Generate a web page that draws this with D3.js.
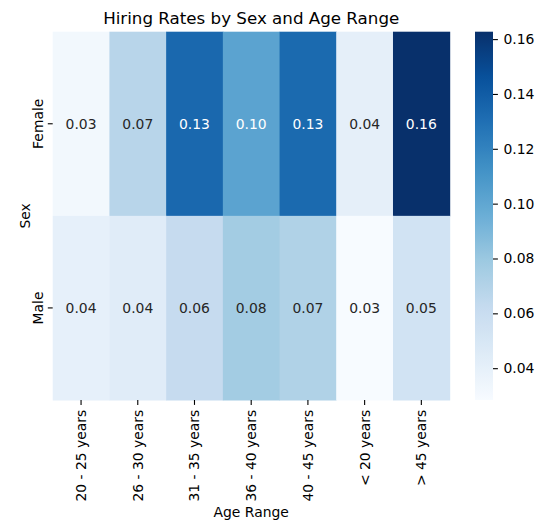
<!DOCTYPE html>
<html>
<head>
<meta charset="utf-8">
<script src="https://cdn.jsdelivr.net/npm/d3@7"></script>
<style>
  body { margin: 0; background: #fff; }
  svg text { font-family: "DejaVu Sans", sans-serif; fill: #000; }
</style>
</head>
<body>
<svg width="543" height="532"></svg>
<script>
// data
const ageRanges = ['20 - 25 years', '26 - 30 years', '31 - 35 years', '36 - 40 years', '40 - 45 years', '< 20 years', '> 45 years'];
const sexes = ['Female', 'Male'];
const femaleRates = [0.032, 0.068, 0.134, 0.102, 0.133, 0.0405, 0.1627];
const maleRates   = [0.0398, 0.044, 0.062, 0.0766, 0.0712, 0.0284, 0.054];
const cbarTicks = [0.04, 0.06, 0.08, 0.10, 0.12, 0.14, 0.16];

// matplotlib "Blues"
const bluesStops = ['#f7fbff', '#deebf7', '#c6dbef', '#9ecae1', '#6baed6', '#4292c6', '#2171b5', '#08519c', '#08306b'];

const rows = [femaleRates, maleRates];
const cells = [];
rows.forEach((vals, r) => vals.forEach((v, c) => cells.push({ sex: sexes[r], age: ageRanges[c], value: v })));

const svg = d3.select('svg');
const mLeft = 52.7, mRight = 449.7, mTop = 31.7, mBottom = 400;

const vmin = d3.min(cells, d => d.value);
const vmax = d3.max(cells, d => d.value);

const x = d3.scaleBand().domain(ageRanges).range([mLeft, mRight]);
const y = d3.scaleBand().domain(sexes).range([mTop, mBottom]);
const t = d3.scaleLinear().domain([vmin, vmax]).range([0, 1]).clamp(true);
const frac = d3.range(bluesStops.length).map(i => i / (bluesStops.length - 1));
const blues = d3.scaleLinear().domain(frac).range(bluesStops).interpolate(d3.interpolateRgb);
const color = v => blues(t(v));

// cells
svg.append('g').selectAll('rect')
    .data(cells)
    .enter().append('rect')
    .attr('x', d => x(d.age))
    .attr('y', d => y(d.sex))
    .attr('width', x.bandwidth() + 0.5)
    .attr('height', y.bandwidth() + 0.5)
    .attr('fill', d => color(d.value));

// annotations, white on dark cells like seaborn
function lum(c) {
    const rgb = d3.rgb(c);
    const f = u => { u /= 255; return u <= 0.03928 ? u / 12.92 : Math.pow((u + 0.055) / 1.055, 2.4); };
    return 0.2126 * f(rgb.r) + 0.7152 * f(rgb.g) + 0.0722 * f(rgb.b);
}
svg.append('g').selectAll('text')
    .data(cells)
    .enter().append('text')
    .attr('x', d => x(d.age) + x.bandwidth() / 2)
    .attr('y', d => y(d.sex) + y.bandwidth() / 2)
    .attr('dy', '0.36em')
    .attr('text-anchor', 'middle')
    .style('font-size', '13.9px')
    .style('fill', d => lum(color(d.value)) > 0.408 ? '#262626' : '#ffffff')
    .text(d => d.value.toFixed(2));

// x axis
const xAxis = svg.append('g')
    .attr('transform', `translate(0,${mBottom})`)
    .call(d3.axisBottom(x).tickSize(4.9).tickPadding(5));
xAxis.select('.domain').remove();
xAxis.selectAll('line').attr('stroke', '#000').attr('stroke-width', 1.1);
xAxis.selectAll('text')
    .attr('transform', 'rotate(-90)')
    .attr('x', -9.7)
    .attr('y', 0)
    .attr('dy', '0.35em')
    .attr('text-anchor', 'end')
    .style('font-size', '13.9px');

// y axis
const yAxis = svg.append('g')
    .attr('transform', `translate(${mLeft},0)`)
    .call(d3.axisLeft(y).tickSize(4.9));
yAxis.select('.domain').remove();
yAxis.selectAll('line').attr('stroke', '#000').attr('stroke-width', 1.1);
yAxis.selectAll('text')
    .attr('transform', 'rotate(-90)')
    .attr('x', 0)
    .attr('y', -10)
    .attr('dy', 0)
    .attr('text-anchor', 'middle')
    .style('font-size', '13.9px');

// colorbar
const cbX = 475, cbW = 18;
const cb = d3.scaleLinear().domain([vmin, vmax]).range([mBottom, mTop]);
const grad = svg.append('defs').append('linearGradient')
    .attr('id', 'cbar').attr('x1', 0).attr('y1', 1).attr('x2', 0).attr('y2', 0);
grad.selectAll('stop')
    .data(d3.range(0, 1.0001, 0.02))
    .enter().append('stop')
    .attr('offset', d => d)
    .attr('stop-color', d => blues(d));
svg.append('rect')
    .attr('x', cbX).attr('y', mTop)
    .attr('width', cbW).attr('height', mBottom - mTop)
    .attr('fill', 'url(#cbar)');
const cAxis = svg.append('g')
    .attr('transform', `translate(${cbX + cbW},0)`)
    .call(d3.axisRight(cb).tickValues(cbarTicks).tickFormat(d3.format('.2f')).tickSize(4.9).tickPadding(5.5));
cAxis.select('.domain').remove();
cAxis.selectAll('line').attr('stroke', '#000').attr('stroke-width', 1.1);
cAxis.selectAll('text').style('font-size', '13.9px');

// titles
svg.append('text')
    .attr('x', (mLeft + mRight) / 2).attr('y', 24)
    .attr('text-anchor', 'middle')
    .style('font-size', '16.7px')
    .text('Hiring Rates by Sex and Age Range');
svg.append('text')
    .attr('x', (mLeft + mRight) / 2).attr('y', 517)
    .attr('text-anchor', 'middle')
    .style('font-size', '13.9px')
    .text('Age Range');
svg.append('text')
    .attr('transform', `translate(30,${(mTop + mBottom) / 2}) rotate(-90)`)
    .attr('text-anchor', 'middle')
    .style('font-size', '13.9px')
    .text('Sex');
</script>
</body>
</html>
